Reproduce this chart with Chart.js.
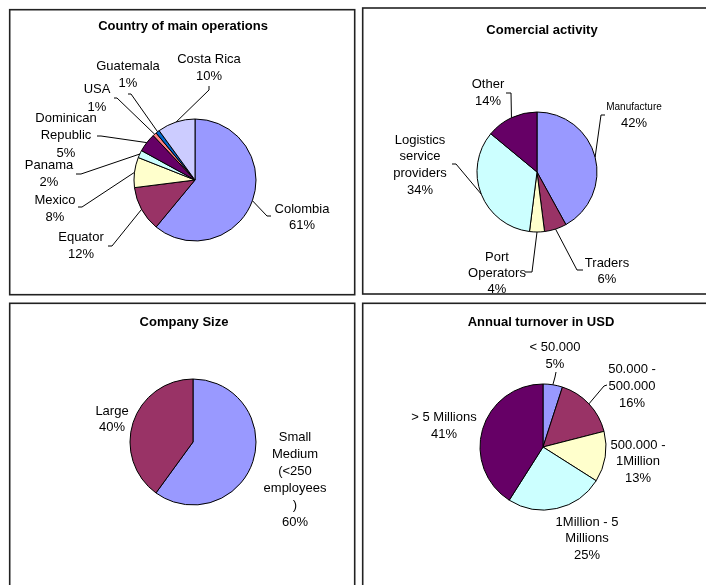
<!DOCTYPE html>
<html>
<head>
<meta charset="utf-8">
<script src="https://cdn.jsdelivr.net/npm/chart.js@4.4.0/dist/chart.umd.min.js"></script>
<style>
html, body { margin: 0; padding: 0; background: #fff; }
#wrap { position: relative; width: 706px; height: 585px; overflow: hidden; }
#wrap canvas { position: absolute; left: 0; top: 0; }
</style>
</head>
<body>
<div id="wrap">
    <canvas id="countryChart" width="706" height="585"></canvas>
    <canvas id="activityChart" width="706" height="585"></canvas>
    <canvas id="sizeChart" width="706" height="585"></canvas>
    <canvas id="turnoverChart" width="706" height="585"></canvas>
</div>
<script>
// Data
const countryLabels = ['Colombia', 'Equator', 'Mexico', 'Panama', ['Dominican', 'Republic'], 'USA', 'Guatemala', 'Costa Rica'];
const countryValues = [61, 12, 8, 2, 5, 1, 1, 10];

const activityLabels = ['Manufacture', 'Traders', ['Port', 'Operators'], ['Logistics', 'service', 'providers'], 'Other'];
const activityValues = [42, 6, 4, 34, 14];

const sizeLabels = [['Small', 'Medium', '(<250', 'employees', ')'], 'Large'];
const sizeValues = [60, 40];

const turnoverLabels = ['< 50.000', ['50.000 -', '500.000'], ['500.000 -', '1Million'], ['1Million - 5', 'Millions'], '> 5 Millions'];
const turnoverValues = [5, 16, 13, 25, 41];

// Excel-style palette
const sliceColors = ['#9999FF', '#993366', '#FFFFCC', '#CCFFFF', '#660066', '#FF8080', '#0066CC', '#CCCCFF'];

const FONT = '"Liberation Sans", Arial, sans-serif';
const W = 706, H = 585;

// Panel, title and label placement (page pixels)
const layouts = {
    countryChart: {
        title: 'Country of main operations', titleX: 183, titleY: 26,
        panel: [9.7, 9.7, 354.7, 294.7], cx: 195, cy: 180, r: 61,
        labels: [
            { x: 302, y: 209, lh: 16.5, leader: [271, 216, 267, 216] },
            { x: 81, y: 237, lh: 17, leader: [108, 246, 112, 246] },
            { x: 55, y: 200, lh: 17, leader: [78, 207, 82, 207] },
            { x: 49, y: 165, lh: 17, leader: [76, 174, 81, 174] },
            { x: 66, y: 118, lh: 17.5, leader: [97, 136, 101, 136] },
            { x: 97, y: 89, lh: 18, leader: [114, 98, 117, 98] },
            { x: 128, y: 66, lh: 17, leader: [128, 94, 131, 94] },
            { x: 209, y: 59, lh: 17, leader: [209, 86, 209, 90] }
        ]
    },
    activityChart: {
        title: 'Comercial activity', titleX: 542, titleY: 30,
        panel: [362.7, 8, 720, 294], cx: 537, cy: 172, r: 60,
        labels: [
            { x: 634, y: 107, lh: 16, nameSize: 10, leader: [605, 115, 601, 115] },
            { x: 607, y: 263, lh: 16, leader: [583, 270, 577, 270] },
            { x: 497, y: 257, lh: 16, leader: [525, 272, 532, 272] },
            { x: 420, y: 140, lh: 16.7, leader: [452, 164, 456, 164] },
            { x: 488, y: 84, lh: 17, leader: [506, 93, 511, 93] }
        ]
    },
    sizeChart: {
        title: 'Company Size', titleX: 184, titleY: 322,
        panel: [9.7, 303.3, 354.7, 600], cx: 193, cy: 442, r: 63,
        labels: [
            { x: 295, y: 437, lh: 17 },
            { x: 112, y: 411, lh: 16 }
        ]
    },
    turnoverChart: {
        title: 'Annual turnover in USD', titleX: 541, titleY: 322,
        panel: [362.7, 303.3, 720, 600], cx: 543, cy: 447, r: 63,
        labels: [
            { x: 555, y: 347, lh: 17, leader: [556, 372, 555, 377] },
            { x: 632, y: 369, lh: 17, leader: [607, 385, 604, 386] },
            { x: 638, y: 445, lh: 16.5 },
            { x: 587, y: 522, lh: 16.5 },
            { x: 444, y: 417, lh: 17 }
        ]
    }
};

// Draws panel frame, title, labels and leader lines
const excelPiePlugin = {
    id: 'excelPie',
    afterDraw(chart) {
        const lay = layouts[chart.canvas.id];
        const ctx = chart.ctx;
        const [x1, y1, x2, y2] = lay.panel;
        const meta = chart.getDatasetMeta(0);
        const values = chart.data.datasets[0].data;

        ctx.save();
        ctx.strokeStyle = '#222';
        ctx.lineWidth = 1.6;
        ctx.strokeRect(x1, y1, x2 - x1, y2 - y1);

        ctx.beginPath();
        ctx.rect(x1 + 1, y1 + 1, x2 - x1 - 2, y2 - y1 - 2);
        ctx.clip();

        ctx.fillStyle = '#000';
        ctx.textAlign = 'center';
        ctx.textBaseline = 'middle';
        ctx.font = 'bold 13px ' + FONT;
        ctx.fillText(lay.title, lay.titleX, lay.titleY);

        lay.labels.forEach((lb, i) => {
            const name = chart.data.labels[i];
            const lines = Array.isArray(name) ? name.slice() : [name];
            lines.forEach((t, k) => {
                ctx.font = (lb.nameSize || 13) + 'px ' + FONT;
                ctx.fillText(t, lb.x, lb.y + k * lb.lh);
            });
            ctx.font = '13px ' + FONT;
            ctx.fillText(values[i] + '%', lb.x, lb.y + lines.length * lb.lh);

            if (lb.leader) {
                const arc = meta.data[i];
                const mid = (arc.startAngle + arc.endAngle) / 2;
                const px = arc.x + Math.cos(mid) * arc.outerRadius;
                const py = arc.y + Math.sin(mid) * arc.outerRadius;
                ctx.strokeStyle = '#000';
                ctx.lineWidth = 1;
                ctx.beginPath();
                ctx.moveTo(lb.leader[0], lb.leader[1]);
                ctx.lineTo(lb.leader[2], lb.leader[3]);
                ctx.lineTo(px, py);
                ctx.stroke();
            }
        });
        ctx.restore();
    }
};

function makePie(id, labels, values) {
    const lay = layouts[id];
    const ctx = document.getElementById(id).getContext('2d');
    const r = lay.r + 0.5;
    return new Chart(ctx, {
        type: 'pie',
        data: {
            labels: labels,
            datasets: [{
                data: values,
                backgroundColor: sliceColors.slice(0, values.length),
                borderColor: '#000',
                borderWidth: 1,
                hoverOffset: 0
            }]
        },
        options: {
            responsive: false,
            animation: false,
            events: [],
            layout: {
                padding: {
                    left: lay.cx - r,
                    top: lay.cy - r,
                    right: W - lay.cx - r,
                    bottom: H - lay.cy - r
                }
            },
            plugins: {
                legend: { display: false },
                tooltip: { enabled: false },
                title: { display: false }
            }
        },
        plugins: [excelPiePlugin]
    });
}

makePie('countryChart', countryLabels, countryValues);
makePie('activityChart', activityLabels, activityValues);
makePie('sizeChart', sizeLabels, sizeValues);
makePie('turnoverChart', turnoverLabels, turnoverValues);
</script>
</body>
</html>
